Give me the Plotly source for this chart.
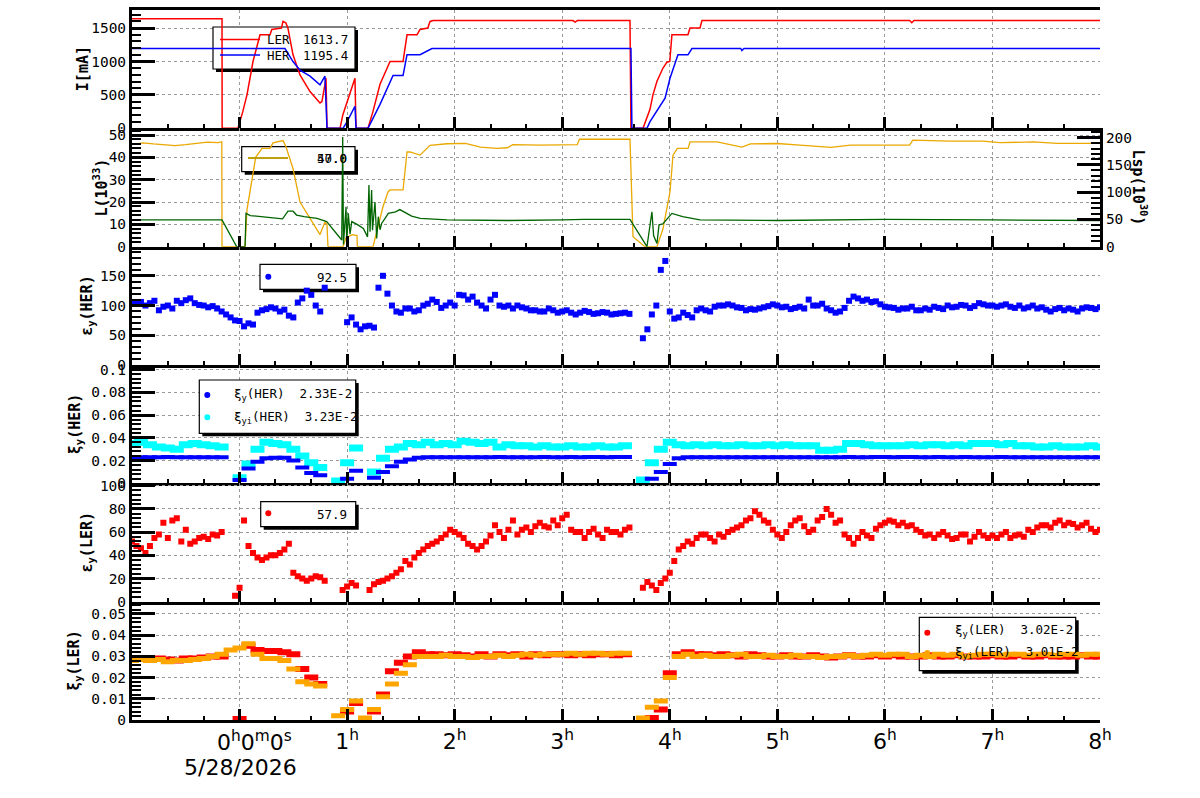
import plotly.graph_objects as go

# ----------------------------------------------------------------- data
# beam currents [mA] (time in hours from 5/28/2026 0:00)
ler_t = [-1.0, -0.163, -0.162, -0.015, 0.03, 0.069, 0.125, 0.171, 0.19, 0.283, 0.30, 0.39, 0.404, 0.43,
         0.45, 0.497, 0.562, 0.655, 0.748, 0.766, 0.804, 0.813, 0.934, 0.96, 1.0, 1.073, 1.083, 1.194,
         1.24, 1.306, 1.399, 1.52, 1.557, 1.65, 1.678, 1.75, 1.771, 1.80, 2.5, 3.0, 3.10, 3.12, 3.14,
         3.63, 3.639, 3.751, 3.816, 3.844, 3.881, 3.937, 3.974, 4.0, 4.02, 4.169, 4.188, 4.281, 4.299,
         6.23, 6.25, 6.27, 8.0]
ler_i = [1640, 1640, 0, 0, 250, 500, 1000, 1300, 1400, 1400, 1480, 1500, 1600, 1580,
         1500, 1100, 800, 550, 380, 400, 750, 0, 0, 200, 400, 750, 0, 0,
         250, 660, 1000, 1000, 1400, 1400, 1480, 1500, 1600, 1613, 1615, 1615, 1613, 1590, 1612,
         1613, 0, 0, 284, 504, 704, 903, 990, 1000, 1400, 1400, 1500, 1500, 1613,
         1613, 1580, 1613, 1613]
her_t = [-1.0, 0.422, 0.497, 0.562, 0.655, 0.748, 0.794, 0.804, 0.813, 0.962, 1.0, 1.073, 1.083,
         1.194, 1.306, 1.427, 1.52, 1.557, 1.678, 1.789, 3.639, 3.648, 3.788, 3.816, 3.956, 4.002,
         4.076, 4.169, 4.206, 4.66, 4.67, 4.69, 8.0]
her_i = [1195, 1195, 1000, 870, 780, 650, 780, 370, 0, 0, 100, 330, 0,
         0, 359, 790, 790, 1103, 1103, 1195, 1195, 0, 0, 100, 450, 750,
         1100, 1100, 1195, 1195, 1165, 1195, 1195]

# luminosity L [1e33] and specific luminosity Lsp [1e30]
lum_t = [-1.0, -0.9, -0.8, -0.7, -0.6, -0.5, -0.4, -0.3, -0.2, -0.165, -0.163, 0.051, 0.069, 0.10,
         0.125, 0.15, 0.209, 0.283, 0.311, 0.38, 0.404, 0.43, 0.497, 0.562, 0.655, 0.748, 0.794,
         0.813, 0.822, 0.962, 0.99, 1.05, 1.092, 1.095, 1.241, 1.334, 1.38, 1.399, 1.52, 1.557,
         1.585, 1.678, 1.771, 1.929, 2.1, 2.24, 2.39, 2.49, 2.54, 2.8, 3.14, 3.16, 3.63, 3.658,
         3.769, 3.881, 3.937, 4.002, 4.03, 4.07, 4.17, 4.188, 4.44, 4.67, 4.75, 5.0, 5.21, 5.5,
         5.68, 6.0, 6.23, 6.26, 6.6, 6.91, 7.07, 7.38, 7.6, 8.0]
lum_v = [45.7, 46.5, 46.0, 45.5, 45.3, 45.7, 46.3, 46.8, 46.6, 47.0, 0, 0, 16.5, 25,
         33.5, 40, 44, 44, 46.5, 47.2, 47.5, 45, 35, 20, 12.5, 5.4, 11,
         9.8, 0, 0, 4, 5.4, 5, 0, 0, 18, 24.5, 25.4, 25.4, 42.4,
         42.4, 41, 45.4, 46.1, 46.3, 44.6, 44, 44.3, 45.7, 45.5, 45.7, 48.1, 48.1, 4.5,
         0, 0, 8, 24.5, 41, 44, 44, 46.9, 46.9, 44.6, 46, 46.2, 45.5, 44.5,
         45.5, 45.6, 45.5, 47.7, 47.3, 47.3, 46.6, 46.9, 46.3, 46.3]
lsp_t = [-1.0, -0.163, -0.027, 0.051, 0.06, 0.10, 0.2, 0.3, 0.40, 0.45, 0.497, 0.53, 0.6, 0.72,
         0.80, 0.81, 0.950, 0.959, 0.966, 0.990, 0.996, 1.011, 1.027, 1.043, 1.10, 1.151, 1.19,
         1.203, 1.213, 1.228, 1.236, 1.259, 1.275, 1.290, 1.306, 1.322, 1.353, 1.383, 1.45, 1.49,
         1.6, 1.68, 1.93, 2.5, 3.0, 3.2, 3.63, 3.788, 3.834, 3.85, 3.881, 3.90, 3.937, 4.002,
         4.02, 4.12, 4.28, 5.0, 5.5, 6.0, 7.0, 8.0]
lsp_v = [49, 49, 0, 0, 61, 57, 55, 53.6, 51, 65, 65, 58, 55, 52,
         47.5, 46, 12.3, 201, 4, 73, 5, 61, 23, 46, 40, 33.6, 18,
         113, 27.5, 104, 30, 82, 15, 55, 31, 43, 52, 61, 64, 68,
         56, 52, 49, 48, 49, 50, 50, 0, 64, 20, 6, 40, 42, 58,
         61, 55, 49, 48, 48.5, 50, 49, 48]

# 5-minute samples (one row per hour, -1h ... 7h, then 8h)
minutes = list(range(-60, 481, 5))
# second reading of the noisy emittances, 2.5 min after each sample
minutes_b = [m + 2.5 for m in range(-60, 480, 5)]
N = None
eps_her = [103, 106, 104, 92, 100, 108, 109, 104, 100, 99, 90, 80,
           74, 70, 88, 94, 95, 93, 80, 112, 118, 90, N, N,
           72, 68, 65, 63, 150, 100, 88, 95, 92, 103, 106, 100,
           100, 117, 115, 100, 110, 100, 100, 100, 95, 92, 90, 92,
           90, 88, 88, 89, 87, 88, 86, 88, N, 45, 85, 160,
           90, 80, 84, 92, 92, 98, 100, 100, 96, 94, 95, 99,
           100, 98, 96, 95, 100, 103, 92, 90, 108, 112, 110, 107,
           98, 96, 95, 98, 92, 93, 96, 100, 98, 100, 99, 102,
           100, 100, 98, 100, 97, 95, 93, 94, 92, 93, 95, 96,
           97]
eps_her_b = [105, 100, 108, 98, 95, 104, 112, 101, 97, 95, 85, 75,
             65, 68, 92, 97, 90, 83, 105, 125, 100, 130, N, N,
             80, 60, 66, 130, 120, 90, 95, 90, 100, 110, 96, 105,
             118, 110, 105, 95, 118, 98, 95, 97, 92, 90, 95, 88,
             92, 85, 91, 86, 89, 85, 87, 86, N, 60, 100, 175,
             78, 88, 80, 95, 90, 100, 102, 97, 92, 93, 97, 102,
             97, 94, 98, 110, 100, 95, 88, 96, 115, 108, 106, 102,
             97, 93, 95, 92, 95, 98, 94, 97, 101, 96, 104, 100,
             98, 102, 96, 95, 100, 97, 90, 96, 95, 90, 97, 94]
xi_her = [.0229, .0230, .0229, .0230, .0231, .0229, .0230, .0229, .0230, .0230, .0229, N,
          .003, .013, .019, .022, .0225, .0225, .020, .014, .009, .007, N, N,
          .004, .011, N, .005, .010, .015, .019, .021, .0225, .0229, .0230, .0229,
          .0230, .0230, .0229, .0230, .0230, .0231, .0230, .0230, .0229, .0230, .0231, .0230,
          .0230, .0231, .0230, .0231, .0231, .0230, .0231, .0231, N, N, .004, .010,
          .017, .022, .0229, .0230, .0230, .0229, .0230, .0230, .0229, .0230, .0230, .0229,
          .0230, .0229, .0230, .0229, .0229, .0230, .0230, .0230, .0231, .0230, .0230, .0231,
          .0231, .0230, .0231, .0231, .0230, .0230, .0231, .0230, .0230, .0231, .0230, .0230,
          .0230, .0231, .0230, .0230, .0229, .0229, .0230, .0230, .0229, .0230, .0230, .0230,
          .0230]
xi_heri = [.035, .036, .034, .032, .031, .030, .034, .035, .034, .033, .032, N,
           .005, .017, .030, .036, .035, .034, .030, .024, .018, .014, N, .002,
           .018, .031, N, .010, .022, .030, .032, .035, .034, .036, .034, .035,
           .034, .037, .036, .035, .036, .032, .034, .033, .033, .032, .033, .032,
           .032, .033, .032, .032, .033, .032, .032, .033, N, .003, .018, .030,
           .036, .034, .033, .034, .033, .034, .033, .033, .034, .033, .033, .034,
           .033, .034, .033, .033, .033, .029, .029, .030, .035, .035, .034, .033,
           .033, .033, .033, .034, .033, .034, .034, .033, .034, .033, .035, .035,
           .035, .034, .035, .033, .033, .032, .032, .033, .032, .032, .032, .033,
           .032]
eps_ler = [52, 46, 48, 58, 55, 72, 62, 52, 56, 58, 60, N,
           12, 48, 38, 38, 40, 45, 25, 20, 20, 21, N, N,
           13, 14, N, 15, 18, 22, 28, 32, 42, 48, 52, 58,
           60, 55, 48, 48, 57, 60, 62, 58, 64, 65, 65, 70,
           72, 62, 60, 60, 58, 62, 60, 62, N, 12, 14, 16,
           25, 45, 52, 55, 58, 52, 56, 62, 66, 72, 75, 68,
           58, 60, 70, 65, 62, 73, 75, 70, 55, 55, 57, 63,
           68, 69, 68, 66, 60, 58, 58, 57, 55, 58, 56, 57,
           57, 58, 55, 58, 62, 64, 66, 68, 66, 67, 66, 63,
           62]
eps_ler_b = [48, 42, 55, 68, 70, 52, 50, 55, 54, 57, N, 5,
             70, 42, 36, 40, 42, 50, 22, 18, 22, 18, N, 10,
             16, N, 10, 17, 20, 25, 35, 38, 45, 50, 55, 62,
             58, 50, 45, 52, 66, 55, 70, 62, 60, 68, 64, 66,
             75, 60, 55, 63, 55, 60, 58, 64, N, 17, 10, 20,
             35, 48, 50, 58, 55, 58, 60, 64, 70, 78, 70, 62,
             55, 66, 72, 60, 70, 80, 68, 58, 50, 60, 55, 66,
             70, 66, 65, 62, 57, 55, 60, 54, 58, 52, 60, 55,
             55, 60, 57, 56, 60, 66, 64, 70, 68, 64, 68, 60]
xi_ler = [.029, .029, .0285, .029, .0285, .028, .029, .029, .0295, .030, .030, N,
          .0005, .035, .033, .0325, .0325, .032, .031, .024, .020, .017, N, N,
          .004, .008, N, .004, .012, .023, .027, .030, .032, .031, .031, .0305,
          .031, .0305, .030, .031, .030, .031, .0305, .031, .030, .031, .0305, .031,
          .031, .0305, .031, .0305, .031, .031, .0305, .031, N, N, .001, .005,
          .022, .031, .032, .031, .031, .0305, .031, .0305, .030, .031, .0305, .030,
          .030, .0305, .030, .030, .0305, .030, .0295, .030, .0305, .030, .030, .0305,
          .030, .0305, .030, .030, .030, .0305, .030, .030, .0305, .030, .030, .030,
          .0305, .030, .030, .0305, .030, .030, .0305, .030, .030, .030, .0305, .030,
          .030]
xi_leri = [.028, .0285, .028, .0285, .0275, .028, .028, .0285, .029, .030, .031, .033,
           .034, .036, .031, .029, .029, .028, .024, .018, .017, .016, N, .002,
           .005, .009, .001, .005, .011, .017, .022, .026, .030, .030, .030, .0305,
           .030, .030, .0295, .030, .030, .0305, .030, .0305, .031, .0305, .031, .031,
           .031, .0315, .031, .0315, .0315, .031, .0315, .0315, N, .001, .006, .009,
           .020, .030, .031, .030, .0305, .030, .030, .0305, .031, .030, .030, .0305,
           .030, .030, .0305, .030, .030, .0295, .030, .030, .0305, .030, .0305, .031,
           .0305, .031, .031, .030, .0305, .030, .031, .0305, .031, .030, .0305, .031,
           .031, .0305, .031, .031, .0305, .031, .031, .0305, .031, .031, .0305, .031,
           .031]

hour_ticks = [0, 1, 2, 3, 4, 5, 6, 7, 8]
hour_text = ["", "1<sup>h</sup>", "2<sup>h</sup>", "3<sup>h</sup>", "4<sup>h</sup>",
             "5<sup>h</sup>", "6<sup>h</sup>", "7<sup>h</sup>", "8<sup>h</sup>"]

t_samp = [m / 60 for m in minutes]
t_samp_b = [m / 60 for m in minutes_b]

# ----------------------------------------------------------------- geometry
W, H = 1200, 798
PL, PR, PT, PB = 132, 1100, 10, 720
PW, PH = PR - PL, PB - PT
PANEL = PH / 6
X_RANGE = [-1, 8]
Y_RANGES = [[0, 1771], [0, 53], [0, 199], [0, 0.104], [0, 102.1], [0, 0.0558]]


def xp(px):
    return (px - PL) / PW


def yp(py):
    return (PB - py) / PH


def dom(k):
    return [1 - k / 6, 1 - (k - 1) / 6]


MONO = "DejaVu Sans Mono"
GRID = dict(showgrid=True, gridcolor="#9a9a9a", griddash="3px,3px", gridwidth=1)

fig = go.Figure()

# ----------------------------------------------------------------- traces
fig.add_trace(go.Scatter(x=ler_t, y=ler_i, mode="lines", line=dict(color="#ff0000", width=1.5),
                         xaxis="x", yaxis="y", showlegend=False, name="LER"))
fig.add_trace(go.Scatter(x=her_t, y=her_i, mode="lines", line=dict(color="#0000ff", width=1.5),
                         xaxis="x", yaxis="y", showlegend=False, name="HER"))
fig.add_trace(go.Scatter(x=lum_t, y=lum_v, mode="lines", line=dict(color="#eaa800", width=1.3),
                         xaxis="x2", yaxis="y2", showlegend=False, name="L"))
fig.add_trace(go.Scatter(x=lsp_t, y=lsp_v, mode="lines", line=dict(color="#006400", width=1.3),
                         xaxis="x2", yaxis="y7", showlegend=False, name="Lsp"))


def dots(x, y, color, xa, ya, name, size=5):
    fig.add_trace(go.Scatter(x=x, y=y, mode="markers", xaxis=xa, yaxis=ya, name=name,
                             marker=dict(symbol="square", size=size, color=color, line=dict(width=0)),
                             showlegend=False))


def band(y, color, xa, ya, name, thick):
    # dense sampled quantity: horizontal dash markers, one per sample
    fig.add_trace(go.Scatter(x=t_samp, y=y, mode="markers", xaxis=xa, yaxis=ya, name=name,
                             marker=dict(symbol="line-ew", size=10,
                                         line=dict(width=thick, color=color)),
                             showlegend=False))


dots(t_samp, eps_her, "#0000ff", "x3", "y3", "eps_y(HER)", 6)
dots(t_samp_b, eps_her_b, "#0000ff", "x3", "y3", "eps_y(HER)", 6)
band(xi_heri, "#00ffff", "x4", "y4", "xi_yi(HER)", 7)
band(xi_her, "#0000ff", "x4", "y4", "xi_y(HER)", 4)
dots(t_samp, eps_ler, "#ff0000", "x5", "y5", "eps_y(LER)", 6)
dots(t_samp_b, eps_ler_b, "#ff0000", "x5", "y5", "eps_y(LER)", 6)
band(xi_ler, "#ff0000", "x6", "y6", "xi_y(LER)", 6)
band(xi_leri, "#ffa500", "x6", "y6", "xi_yi(LER)", 5)

# ----------------------------------------------------------------- axes
minor_x = [k / 3 for k in range(-2, 24) if k % 3 != 0]


def xax(k):
    a = dict(domain=[0, 1], range=X_RANGE, anchor="y" if k == 1 else f"y{k}",
             tickmode="array", tickvals=hour_ticks, ticks="inside", ticklen=11, tickwidth=3,
             tickcolor="black", automargin=False,
             minor=dict(tickmode="array", tickvals=minor_x, ticks="inside", ticklen=4,
                        tickwidth=1.5, tickcolor="black", showgrid=False),
             showline=True, linewidth=3, linecolor="black", zeroline=False,
             showticklabels=False, fixedrange=True, **GRID)
    if k > 1:
        a["matches"] = "x"
    if k == 1:
        a["mirror"] = True
    if k == 6:
        a.update(showticklabels=True, ticktext=hour_text,
                 tickfont=dict(family="DejaVu Sans", size=22, color="black"))
    return a


def yax(k, rng, dt, mdt, side="left", grid=True, xa=None):
    a = dict(domain=dom(k), range=rng, tickmode="linear", tick0=0, dtick=dt,
             ticks="inside", ticklen=23, tickwidth=3, tickcolor="black", automargin=False,
             minor=dict(tick0=0, dtick=mdt, ticks="inside", ticklen=9, tickwidth=2,
                        tickcolor="black", showgrid=False),
             showline=True, linewidth=3, linecolor="black", zeroline=False, side=side,
             tickfont=dict(family=MONO, size=14.5, color="black"), fixedrange=True,
             anchor=xa or ("x" if k == 1 else f"x{k}"))
    if grid:
        a.update(GRID)
    else:
        a["showgrid"] = False
    return a


layout = dict(
    width=W, height=H, margin=dict(l=PL, r=W - PR, t=PT, b=H - PB, pad=0, autoexpand=False),
    paper_bgcolor="white", plot_bgcolor="white", showlegend=False,
    font=dict(family=MONO, color="black"),
)
for k in range(1, 7):
    layout["xaxis" if k == 1 else f"xaxis{k}"] = xax(k)
layout["yaxis"] = yax(1, Y_RANGES[0], 500, 100)
layout["yaxis2"] = yax(2, Y_RANGES[1], 10, 2)
layout["yaxis3"] = yax(3, Y_RANGES[2], 50, 10)
layout["yaxis4"] = yax(4, Y_RANGES[3], 0.02, 0.004)
layout["yaxis5"] = yax(5, Y_RANGES[4], 20, 4)
layout["yaxis6"] = yax(6, Y_RANGES[5], 0.01, 0.002)
y7 = yax(2, [0, 217], 50, 10, side="right", grid=False, xa="x2")
y7["overlaying"] = "y2"
layout["yaxis7"] = y7
fig.update_layout(**layout)

# ----------------------------------------------------------------- titles
ann = []
shapes = []
LEG = 12.5


def txt(x, y, s, size=LEG, xanchor="left", angle=0, fam=MONO, yanchor="middle"):
    ann.append(dict(x=xp(x), y=yp(y), xref="paper", yref="paper", text=s, showarrow=False,
                    xanchor=xanchor, yanchor=yanchor, textangle=angle,
                    font=dict(family=fam, size=size, color="black")))


ytitles = [(83, "I[mA]"), (100, "L(10<sup>33</sup>)"), (88, "ε<sub>y</sub>(HER)"),
           (75, "ξ<sub>y</sub>(HER)"), (87, "ε<sub>y</sub>(LER)"), (75, "ξ<sub>y</sub>(LER)")]
for k, (xc, s) in enumerate(ytitles, start=1):
    yc = PT + (k - 0.5) * PANEL
    txt(xc, yc, "<b>" + s + "</b>", size=15, xanchor="center", angle=-90)
txt(1140, PT + 1.5 * PANEL, "<b>Lsp(10<sup>30</sup>)</b>", size=15, xanchor="center", angle=90)

# time-axis origin label and date
txt(254, 741, "0<sup>h</sup>0<sup>m</sup>0<sup>s</sup>", size=22, xanchor="center", fam="DejaVu Sans")
txt(240, 768, "5/28/2026", size=22, xanchor="center", fam="DejaVu Sans")


# ----------------------------------------------------------------- legend boxes
def box(k, x0, y0, x1, y1):
    xr = "x" if k == 1 else f"x{k}"
    yr = "y" if k == 1 else f"y{k}"
    bottom = PT + k * PANEL
    ymax = Y_RANGES[k - 1][1]

    def xd(px):
        return X_RANGE[0] + (px - PL) / PW * (X_RANGE[1] - X_RANGE[0])

    def yd(py):
        return (bottom - py) / PANEL * ymax

    shapes.append(dict(type="rect", xref=xr, yref=yr, layer="between",
                       x0=xd(x0 + 3), x1=xd(x1 + 3), y0=yd(y0 + 3), y1=yd(y1 + 3),
                       fillcolor="black", line=dict(width=0)))
    shapes.append(dict(type="rect", xref=xr, yref=yr, layer="between",
                       x0=xd(x0), x1=xd(x1), y0=yd(y0), y1=yd(y1),
                       fillcolor="white", line=dict(color="black", width=1.2)))


def sample_line(x0, x1, y, color):
    shapes.append(dict(type="line", xref="paper", yref="paper", layer="above",
                       x0=xp(x0), x1=xp(x1), y0=yp(y), y1=yp(y),
                       line=dict(color=color, width=1.3)))


def sample_dot(x, y, color, r=3):
    shapes.append(dict(type="circle", xref="paper", yref="paper", layer="above",
                       x0=xp(x - r), x1=xp(x + r), y0=yp(y + r), y1=yp(y - r),
                       fillcolor=color, line=dict(width=0)))


NB = "\u00a0"
# panel 1
box(1, 213, 27, 355, 69)
sample_line(220, 260, 39.5, "#ff0000")
sample_line(220, 260, 55, "#0000ff")
txt(265, 39.5, "LER")
txt(350, 39.5, "1613.7", xanchor="right")
txt(265, 55, "HER")
txt(350, 55, "1195.4", xanchor="right")
# panel 2 (two overlapping legends)
box(2, 241.7, 146.7, 355, 171.7)
sample_line(248, 288, 158, "#006400")
sample_line(248, 288, 158, "#eaa800")
txt(349, 158, "50.0", xanchor="right")
txt(349, 158, "47.0", xanchor="right")
# panel 3
box(3, 260, 264.3, 356, 289.3)
sample_dot(268.3, 276.7, "#0000ff")
txt(349, 277, "92.5", xanchor="right")
# panel 4
box(4, 199.3, 380, 355.7, 433.3)
sample_dot(207.3, 395, "#0000ff")
sample_dot(207.3, 417.3, "#00ffff")
txt(231.7, 395, "ξ<sub>y</sub>(HER)" + NB * 2 + "2.33E-2")
txt(231.7, 417.3, "ξ<sub>yi</sub>(HER)" + NB * 2 + "3.23E-2")
# panel 5
box(5, 260.7, 501.7, 355.7, 526.7)
sample_dot(268.3, 513.3, "#ff0000")
txt(349, 514, "57.9", xanchor="right")
# panel 6
box(6, 919.3, 617.3, 1075.7, 670.7)
sample_dot(927.3, 632.7, "#ff0000")
sample_dot(927.3, 653, "#ffa500")
txt(952.7, 630, "ξ<sub>y</sub>(LER)" + NB * 2 + "3.02E-2")
txt(952.7, 652.7, "ξ<sub>yi</sub>(LER)" + NB * 2 + "3.01E-2")

fig.update_layout(annotations=ann, shapes=shapes)
fig.write_html("out.html", config={"displayModeBar": False})
